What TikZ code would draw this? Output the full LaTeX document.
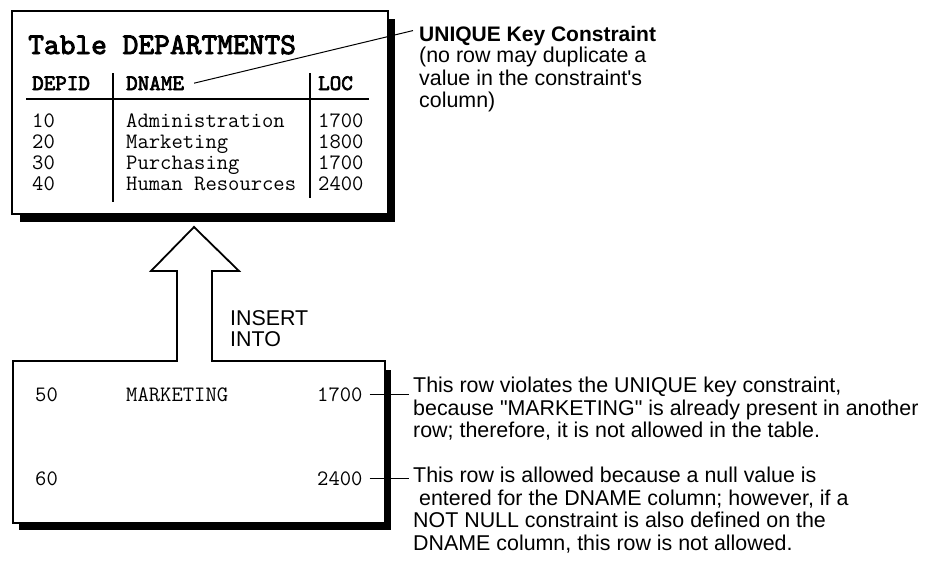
\documentclass[tikz,border=0pt]{standalone}
\usepackage{fontspec}
\setmainfont{Liberation Sans}
\newfontfamily\boldmono[Extension=.otf, FakeBold=3]{lmmono10-regular}

\tikzset{
  cell/.style={anchor=base west, inner sep=0pt, font=\ttfamily\fontsize{22}{26}\selectfont},
  headcell/.style={cell, font=\boldmono\fontsize{22}{26}\selectfont},
  note/.style={anchor=north west, inner sep=0pt, align=left, font=\fontsize{21.4}{22.5}\selectfont},
  frame/.style={draw=black, line width=1.8pt, fill=white, line join=miter},
  shade/.style={fill=black},
  rule/.style={line width=1.5pt},
  lead/.style={line width=1pt},
}

\begin{document}
\begin{tikzpicture}[x=1pt,y=-1pt]
\useasboundingbox (0,0) rectangle (927,563);

\fill[shade] (20,19) rectangle (395,222);
\filldraw[frame] (12,11) rectangle (388,214);

\node[cell, font=\boldmono\fontsize{30}{34}\selectfont] (title) at (28,54) {Table DEPARTMENTS};
\node[headcell] (hdepid) at (32,90) {DEPID};
\node[headcell] (hdname) at (126,90) {DNAME};
\node[headcell] (hloc) at (318,90) {LOC};
\draw[rule] (26,99) -- (369,99);
\draw[rule] (113,73) -- (113,202);
\draw[rule] (310,73) -- (310,198);

\node[cell] (d10) at (32,127) {10};
\node[cell] (d20) at (32,148) {20};
\node[cell] (d30) at (32,169) {30};
\node[cell] (d40) at (32,190) {40};
\node[cell] (nadmin) at (126,127) {Administration};
\node[cell] (nmkt) at (126,148) {Marketing};
\node[cell] (npurch) at (126,169) {Purchasing};
\node[cell] (nhr) at (126,190) {Human Resources};
\node[cell] (l10) at (318,127) {1700};
\node[cell] (l20) at (318,148) {1800};
\node[cell] (l30) at (318,169) {1700};
\node[cell] (l40) at (318,190) {2400};

\node[note, anchor=base west, font=\bfseries\fontsize{21}{22.5}\selectfont] (uniq) at (419,41) {UNIQUE Key Constraint};
\node[note] (uniqtxt) at (419,47) {(no row may duplicate a\\value in the constraint\textquotesingle s\\column)};
\draw[lead] ([xshift=10pt]hdname.east) -- ([xshift=-6pt,yshift=5pt]uniq.west);

\fill[shade] (19,370) rectangle (391,530);
\filldraw[frame] (13,361) -- (177,361) -- (177,271) -- (151,271) -- (194,227)
  -- (239,271) -- (212,271) -- (212,361) -- (385,361) -- (385,523) -- (13,523) -- cycle;

\node[note, font=\fontsize{21.4}{21}\selectfont] (insert) at (230,310) {INSERT\\INTO};

\node[cell] (r50) at (35,401) {50};
\node[cell] (rmkt) at (126,401) {MARKETING};
\node[cell] (r1700) at (317,401) {1700};
\node[cell] (r60) at (35,485) {60};
\node[cell] (r2400) at (317,485) {2400};

\node[note] (notea) at (413,377) {This row violates the UNIQUE key constraint,\\because \textquotedbl MARKETING\textquotedbl{} is already present in another\\row; therefore, it is not allowed in the table.};
\node[note] (noteb) at (413,467) {This row is allowed because a null value is\\\ entered for the DNAME column; however, if a\\NOT NULL constraint is also defined on the\\DNAME column, this row is not allowed.};

\draw[lead] ([xshift=7pt]r1700.east) -- ([xshift=-4pt]notea.west |- r1700.east);
\draw[lead] ([xshift=7pt]r2400.east) -- ([xshift=-4pt]noteb.west |- r2400.east);
\end{tikzpicture}
\end{document}
